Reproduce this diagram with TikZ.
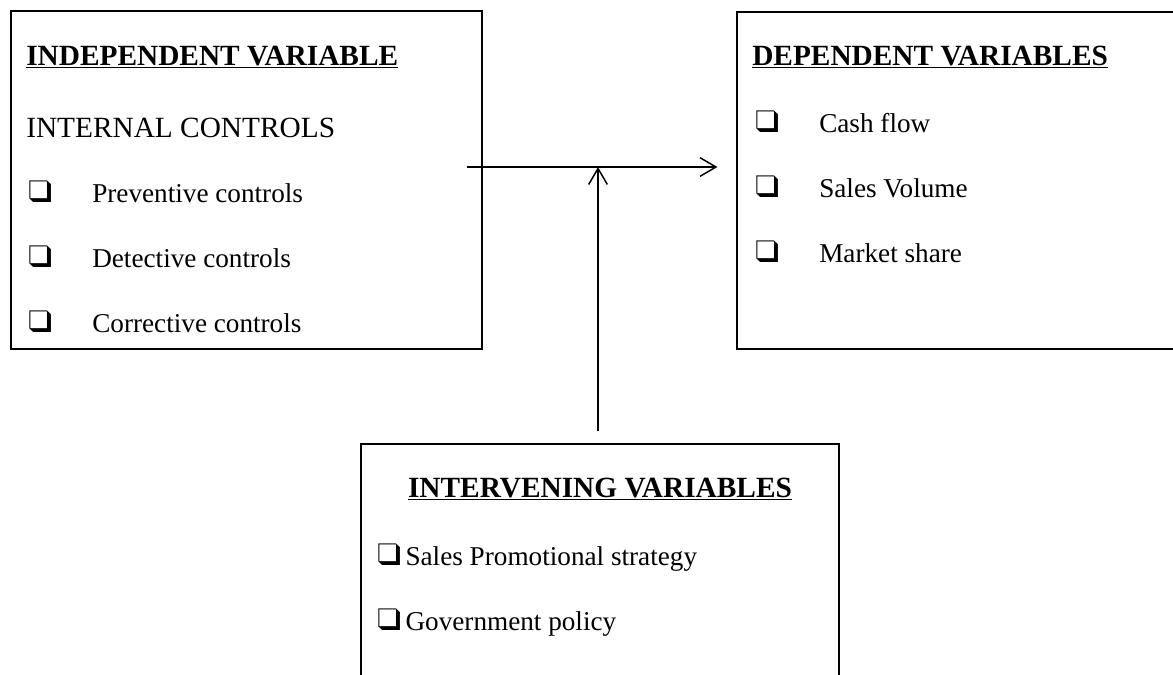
\documentclass[tikz,border=0pt]{standalone}
\usepackage{fontspec}
\setmainfont{Liberation Serif}
\usepackage{pifont}
\usepackage{graphicx}
\usetikzlibrary{positioning,arrows.meta}

\newcommand{\chk}{\scalebox{1.15}{\ding{113}}}
\newcommand{\itemgap}[1]{\makebox[48pt][l]{\chk}#1}
\newcommand{\itemtight}[1]{\chk\,#1}

\begin{document}
\begin{tikzpicture}[x=0.75pt, y=-0.75pt,
  box/.style={draw, line width=1.6pt, inner sep=0pt},
  head/.style={anchor=base west, inner sep=0pt, font=\fontsize{22}{26}\selectfont\bfseries},
  txt/.style={anchor=base west, inner sep=0pt, font=\fontsize{20.4}{24}\selectfont},
  arr/.style={-{Straight Barb[length=12pt,width=14pt]}, line width=1.1pt}]
  \clip (0,0) rectangle (1173,674);

  % Boxes
  \node[box, minimum width=353pt, minimum height=253.5pt] (indep) at (246.5,180) {};
  \node[box, minimum width=332pt, minimum height=252.75pt] (dep) at (958.5,180.5) {};
  \node[box, minimum width=358.5pt, minimum height=192pt] (interv) at (600,572) {};

  % Independent variable
  \node[head] (indephead) at (26,65) {\underline{INDEPENDENT VARIABLE}};
  \node[txt, font=\fontsize{22}{26}\selectfont] (internal) at (26,137) {INTERNAL CONTROLS};
  \node[txt] (prev) at (28,202) {\itemgap{Preventive controls}};
  \node[txt] (detec) at (28,267) {\itemgap{Detective controls}};
  \node[txt] (corr) at (28,332) {\itemgap{Corrective controls}};

  % Dependent variables
  \node[head] (dephead) at (752,65) {\underline{DEPENDENT VARIABLES}};
  \node[txt] (cash) at (755,132) {\itemgap{Cash flow}};
  \node[txt] (sales) at (755,197) {\itemgap{Sales Volume}};
  \node[txt] (market) at (755,262) {\itemgap{Market share}};

  % Intervening variables
  \node[head, anchor=base] (intervhead) at (600,497) {\underline{INTERVENING VARIABLES}};
  \node[txt] (promo) at (377,565) {\itemtight{Sales Promotional strategy}};
  \node[txt] (gov) at (377,630) {\itemtight{Government policy}};

  % Arrows
  \coordinate (hstart) at (467,167);
  \coordinate (join) at (598,167);
  \draw[arr, shorten >=14pt] (hstart) -- (dep.west |- hstart);
  \draw[arr, shorten <=9pt] (interv.north -| join) -- (join);
\end{tikzpicture}
\end{document}
